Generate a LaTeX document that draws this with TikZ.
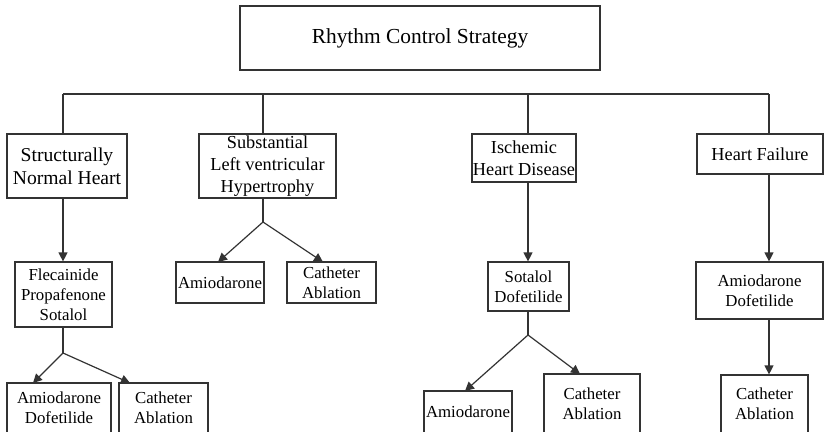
\documentclass[tikz,border=0pt]{standalone}
\usepackage{fontspec}
\setmainfont{Liberation Serif}
\usetikzlibrary{arrows.meta}
\definecolor{ink}{HTML}{333333}
\tikzset{
  box/.style={draw=ink, line width=1.2pt, inner sep=0pt, align=center, text=black},
  lvltop/.style={box, font=\fontsize{21.4}{25}\selectfont},
  lvltwo/.style={box, font=\fontsize{18.3}{22}\selectfont},
  lvltwobig/.style={box, font=\fontsize{19.6}{23}\selectfont},
  lvlthree/.style={box, font=\fontsize{16.8}{20}\selectfont},
  conn/.style={draw=ink, line width=1.2pt},
  arr/.style={conn, -{Triangle[length=9pt,width=9pt]}}
}
\newcommand{\bx}[6]{% name, style, x1, x2, y1, y2, text follows
  \node[#2, minimum width={#4-#3}, minimum height={#6-#5}] (#1) at ({(#3+#4)/2},{(#5+#6)/2})}
\begin{document}
\begin{tikzpicture}[x=1pt,y=-1pt]
\useasboundingbox (0,0) rectangle (824,431);
\clip (0,0) rectangle (824,431);
\fill[white] (0,0) rectangle (824,431);
% top
\bx{top}{lvltop}{240}{600}{6}{70} {Rhythm Control Strategy};
% level 2
\bx{snh}{lvltwobig}{7}{127}{134}{198} {Structurally\\Normal Heart};
\bx{slvh}{lvltwo}{199}{336}{134}{198} {Substantial\\Left ventricular\\Hypertrophy};
\bx{ihd}{lvltwo}{472}{576}{134}{182} {Ischemic\\Heart Disease};
\bx{hf}{lvltwo}{697}{823}{134}{174} {Heart Failure};
% level 3
\bx{fps}{lvlthree}{15}{112}{262}{327} {Flecainide\\Propafenone\\Sotalol};
\bx{amA}{lvlthree}{176}{264}{262}{303} {Amiodarone};
\bx{caA}{lvlthree}{287}{376}{262}{303} {Catheter\\Ablation};
\bx{sd}{lvlthree}{488}{569}{262}{311} {Sotalol\\Dofetilide};
\bx{adH}{lvlthree}{696}{823}{262}{319} {Amiodarone\\Dofetilide};
% level 4
\bx{adB}{lvlthree}{7}{111}{383}{433} {Amiodarone\\Dofetilide};
\bx{caB}{lvlthree}{119}{208}{383}{433} {Catheter\\Ablation};
\bx{amC}{lvlthree}{424}{512}{391}{433} {Amiodarone};
\bx{caC}{lvlthree}{544}{640}{374}{433} {Catheter\\Ablation};
\bx{caH}{lvlthree}{721}{808}{375}{433} {Catheter\\Ablation};
% bus
\coordinate (busL) at (63,94);
\coordinate (busB) at (263,94);
\coordinate (busC) at (528,94);
\coordinate (busR) at (769,94);
\draw[conn] (busL) -- (busR);
\draw[conn] (busL) -- (busL |- snh.north);
\draw[conn] (busB) -- (busB |- slvh.north);
\draw[conn] (busC) -- (busC |- ihd.north);
\draw[conn] (busR) -- (busR |- hf.north);
% structurally normal heart
\draw[arr] (busL |- snh.south) -- (busL |- fps.north);
\coordinate (splA) at (63,353);
\draw[conn] (busL |- fps.south) -- (splA);
\coordinate (tipA1) at (33,383);
\coordinate (tipA2) at (130,383);
\draw[arr] (splA) -- (tipA1);
\draw[arr] (splA) -- (tipA2);
% LVH
\coordinate (splB) at (263,222);
\draw[conn] (busB |- slvh.south) -- (splB);
\coordinate (tipB1) at (218,262);
\coordinate (tipB2) at (323,262);
\draw[arr] (splB) -- (tipB1);
\draw[arr] (splB) -- (tipB2);
% IHD
\draw[arr] (busC |- ihd.south) -- (busC |- sd.north);
\coordinate (splC) at (528,335);
\draw[conn] (busC |- sd.south) -- (splC);
\coordinate (tipC1) at (465,391);
\coordinate (tipC2) at (580,374);
\draw[arr] (splC) -- (tipC1);
\draw[arr] (splC) -- (tipC2);
% HF
\draw[arr] (busR |- hf.south) -- (busR |- adH.north);
\draw[arr] (busR |- adH.south) -- (busR |- caH.north);
\end{tikzpicture}
\end{document}
